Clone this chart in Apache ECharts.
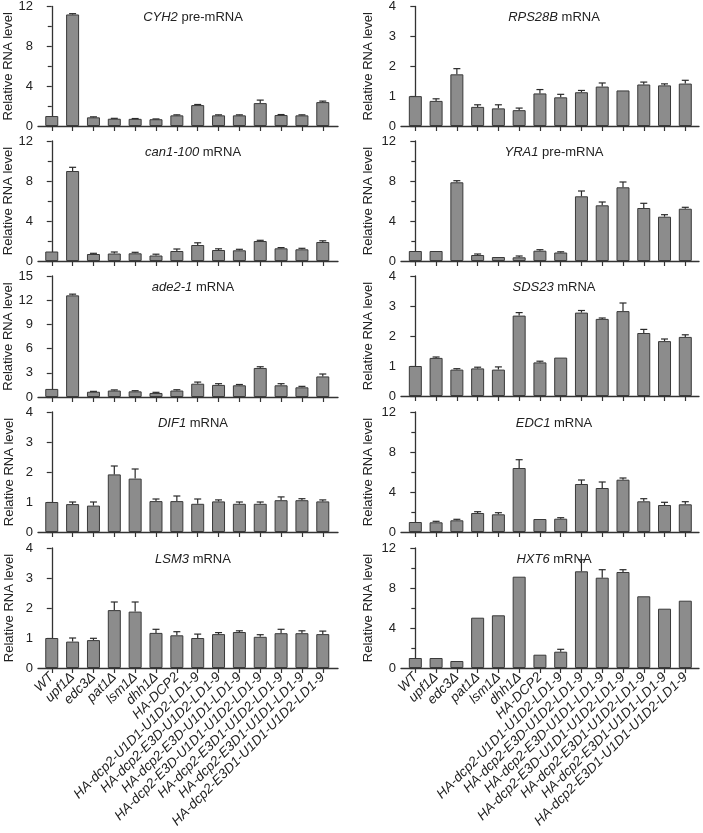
<!DOCTYPE html>
<html><head><meta charset="utf-8">
<script src="https://cdn.jsdelivr.net/npm/echarts@6/dist/echarts.min.js"></script>
<style>html,body{margin:0;padding:0;background:#fff}#c{width:703px;height:833px}</style>
</head><body><div id="c"></div>
<script>
const categories = ['WT','upf1Δ','edc3Δ','pat1Δ','lsm1Δ','dhh1Δ','HA-DCP2',
  'HA-dcp2-U1D1-U1D2-LD1-9','HA-dcp2-E3D-U1D2-LD1-9','HA-dcp2-E3D-U1D1-LD1-9',
  'HA-dcp2-E3D-U1D1-U1D2-LD1-9','HA-dcp2-E3D1-U1D2-LD1-9','HA-dcp2-E3D1-U1D1-LD1-9',
  'HA-dcp2-E3D1-U1D1-U1D2-LD1-9'];

const cyh2    = [1.0, 11.2, 0.87, 0.73, 0.72, 0.68, 1.07, 2.1, 1.07, 1.07, 2.3, 1.1, 1.07, 2.4];
const cyh2Err = [0, 0.08, 0.05, 0.04, 0.03, 0.03, 0.05, 0.06, 0.05, 0.05, 0.3, 0.05, 0.05, 0.1];
const can1    = [0.95, 9.0, 0.7, 0.75, 0.77, 0.55, 1.0, 1.6, 1.1, 1.07, 2.0, 1.27, 1.17, 1.9];
const can1Err = [0, 0.37, 0.07, 0.15, 0.1, 0.13, 0.2, 0.22, 0.12, 0.1, 0.07, 0.07, 0.1, 0.12];
const ade2    = [1.0, 12.6, 0.65, 0.8, 0.7, 0.5, 0.8, 1.65, 1.5, 1.45, 3.6, 1.45, 1.2, 2.55];
const ade2Err = [0, 0.15, 0.05, 0.08, 0.08, 0.08, 0.1, 0.2, 0.15, 0.1, 0.15, 0.2, 0.12, 0.3];
const dif1    = [1.0, 0.93, 0.88, 1.92, 1.78, 1.03, 1.03, 0.94, 1.02, 0.94, 0.94, 1.06, 1.06, 1.02];
const dif1Err = [0, 0.07, 0.12, 0.28, 0.32, 0.07, 0.17, 0.16, 0.05, 0.06, 0.06, 0.11, 0.05, 0.05];
const lsm3    = [1.0, 0.88, 0.93, 1.93, 1.88, 1.17, 1.09, 1.0, 1.13, 1.2, 1.04, 1.16, 1.16, 1.13];
const lsm3Err = [0, 0.12, 0.06, 0.27, 0.32, 0.12, 0.12, 0.13, 0.05, 0.04, 0.07, 0.13, 0.08, 0.1];

const rps28b    = [1.0, 0.84, 1.73, 0.64, 0.59, 0.53, 1.09, 0.96, 1.13, 1.32, 1.19, 1.39, 1.36, 1.42];
const rps28bErr = [0, 0.07, 0.19, 0.07, 0.12, 0.07, 0.13, 0.1, 0.06, 0.12, 0, 0.08, 0.05, 0.11];
const yra1      = [1.0, 1.0, 7.87, 0.6, 0.4, 0.37, 1.03, 0.85, 6.47, 5.57, 7.37, 5.3, 4.43, 5.23];
const yra1Err   = [0, 0, 0.16, 0.1, 0, 0.13, 0.1, 0.07, 0.53, 0.33, 0.53, 0.47, 0.2, 0.14];
const sds23     = [1.0, 1.27, 0.88, 0.92, 0.88, 2.68, 1.12, 1.28, 2.78, 2.57, 2.83, 2.1, 1.83, 1.97];
const sds23Err  = [0, 0.03, 0.03, 0.04, 0.09, 0.1, 0.04, 0, 0.07, 0.03, 0.27, 0.12, 0.07, 0.07];
const edc1      = [1.0, 0.97, 1.17, 1.9, 1.77, 6.4, 1.3, 1.33, 4.8, 4.4, 5.23, 3.07, 2.7, 2.77];
const edc1Err   = [0, 0.1, 0.1, 0.13, 0.16, 0.83, 0, 0.1, 0.4, 0.6, 0.17, 0.26, 0.27, 0.26];
const hxt6      = [1.0, 1.0, 0.7, 5.03, 5.27, 9.13, 1.33, 1.63, 9.67, 9.03, 9.6, 7.17, 5.93, 6.73];
const hxt6Err   = [0, 0, 0, 0, 0, 0, 0, 0.24, 1.16, 0.8, 0.23, 0, 0, 0];

const panels = [
  {gene:'CYH2', suffix:' pre-mRNA', values:cyh2, errors:cyh2Err, max:12, interval:4, col:0, row:0},
  {gene:'can1-100', suffix:' mRNA', values:can1, errors:can1Err, max:12, interval:4, col:0, row:1},
  {gene:'ade2-1', suffix:' mRNA', values:ade2, errors:ade2Err, max:15, interval:3, col:0, row:2},
  {gene:'DIF1', suffix:' mRNA', values:dif1, errors:dif1Err, max:4, interval:1, col:0, row:3},
  {gene:'LSM3', suffix:' mRNA', values:lsm3, errors:lsm3Err, max:4, interval:1, col:0, row:4},
  {gene:'RPS28B', suffix:' mRNA', values:rps28b, errors:rps28bErr, max:4, interval:1, col:1, row:0},
  {gene:'YRA1', suffix:' pre-mRNA', values:yra1, errors:yra1Err, max:12, interval:4, col:1, row:1},
  {gene:'SDS23', suffix:' mRNA', values:sds23, errors:sds23Err, max:4, interval:1, col:1, row:2},
  {gene:'EDC1', suffix:' mRNA', values:edc1, errors:edc1Err, max:12, interval:4, col:1, row:3},
  {gene:'HXT6', suffix:' mRNA', values:hxt6, errors:hxt6Err, max:12, interval:4, col:1, row:4}
];

const FONT = '"Liberation Sans", Arial, Helvetica, sans-serif';
const INK = '#222';
const AX = '#333';
const tops = [6, 141, 276, 412, 548];
const H = 120;
const cols = [
  {left:38, width:300, xmin:-0.66, xmax:13.73, nameGap:22, titleX:188},
  {left:401, width:298, xmin:-0.69, xmax:13.66, nameGap:26, titleX:549}
];
const tickVals = categories.map((c, i) => i);

const grid = [], xAxis = [], yAxis = [], series = [], title = [];
panels.forEach((p, k) => {
  const c = cols[p.col];
  const top = tops[p.row];
  const h = p.max === 15 ? 121 : H;
  grid.push({left:c.left, top:top, width:c.width, height:h, containLabel:false});
  const bottom = p.row === 4;
  xAxis.push({
    gridIndex:k, type:'value', min:c.xmin, max:c.xmax,
    axisLine:{show:true, onZero:false, lineStyle:{color:AX, width:1.3}},
    axisTick:{show:true, customValues:tickVals, length:5, lineStyle:{color:AX, width:1.2}},
    axisLabel:{show:bottom, customValues:tickVals, rotate:45, fontSize:13.5, fontStyle:'italic',
      fontFamily:FONT, color:INK, margin:7, formatter:(v) => categories[Math.round(v)] || ''},
    splitLine:{show:false}
  });
  yAxis.push({
    gridIndex:k, type:'value', min:0, max:p.max, interval:p.interval,
    name:'Relative RNA level', nameLocation:'middle', nameGap:c.nameGap,
    nameTextStyle:{fontSize:13, color:INK, fontFamily:FONT},
    axisLine:{show:true, lineStyle:{color:AX, width:1.3}},
    axisTick:{show:true, length:5, lineStyle:{color:AX, width:1.2}},
    minorTick:{show:p.max === 12, splitNumber:2, length:4, lineStyle:{color:AX, width:1.2}},
    axisLabel:{fontSize:13, color:INK, fontFamily:FONT, margin:5},
    splitLine:{show:false}
  });
  title.push({
    text:'{i|' + p.gene + '}' + p.suffix,
    left:c.titleX, top:top, textAlign:'center',
    textStyle:{fontSize:13, fontWeight:'normal', color:INK, fontFamily:FONT,
      rich:{i:{fontStyle:'italic', fontSize:13, color:INK, fontFamily:FONT}}}
  });
  series.push({
    type:'bar', xAxisIndex:k, yAxisIndex:k, barWidth:13, silent:true,
    itemStyle:{color:'#8c8c8c', borderColor:'#3a3a3a', borderWidth:1},
    data:p.values.map((v, i) => [i, v])
  });
  series.push({
    type:'custom', xAxisIndex:k, yAxisIndex:k, silent:true, z:5,
    encode:{x:0, y:1},
    data:p.values.map((v, i) => [i, v, p.errors[i]]),
    renderItem:(params, api) => {
      const x = api.value(0), y = api.value(1), e = api.value(2);
      if (!e) return null;
      const p0 = api.coord([x, y]);
      const p1 = api.coord([x, y + e]);
      const cw = 3.5;
      const st = {stroke:'#2a2a2a', lineWidth:1.2};
      return {type:'group', children:[
        {type:'line', shape:{x1:p0[0], y1:p0[1], x2:p1[0], y2:p1[1]}, style:st},
        {type:'line', shape:{x1:p1[0]-cw, y1:p1[1], x2:p1[0]+cw, y2:p1[1]}, style:st}
      ]};
    }
  });
});

const chart = echarts.init(document.getElementById('c'), null, {renderer:'canvas'});
chart.setOption({animation:false, backgroundColor:'#fff', title, grid, xAxis, yAxis, series});
</script>
</body></html>
